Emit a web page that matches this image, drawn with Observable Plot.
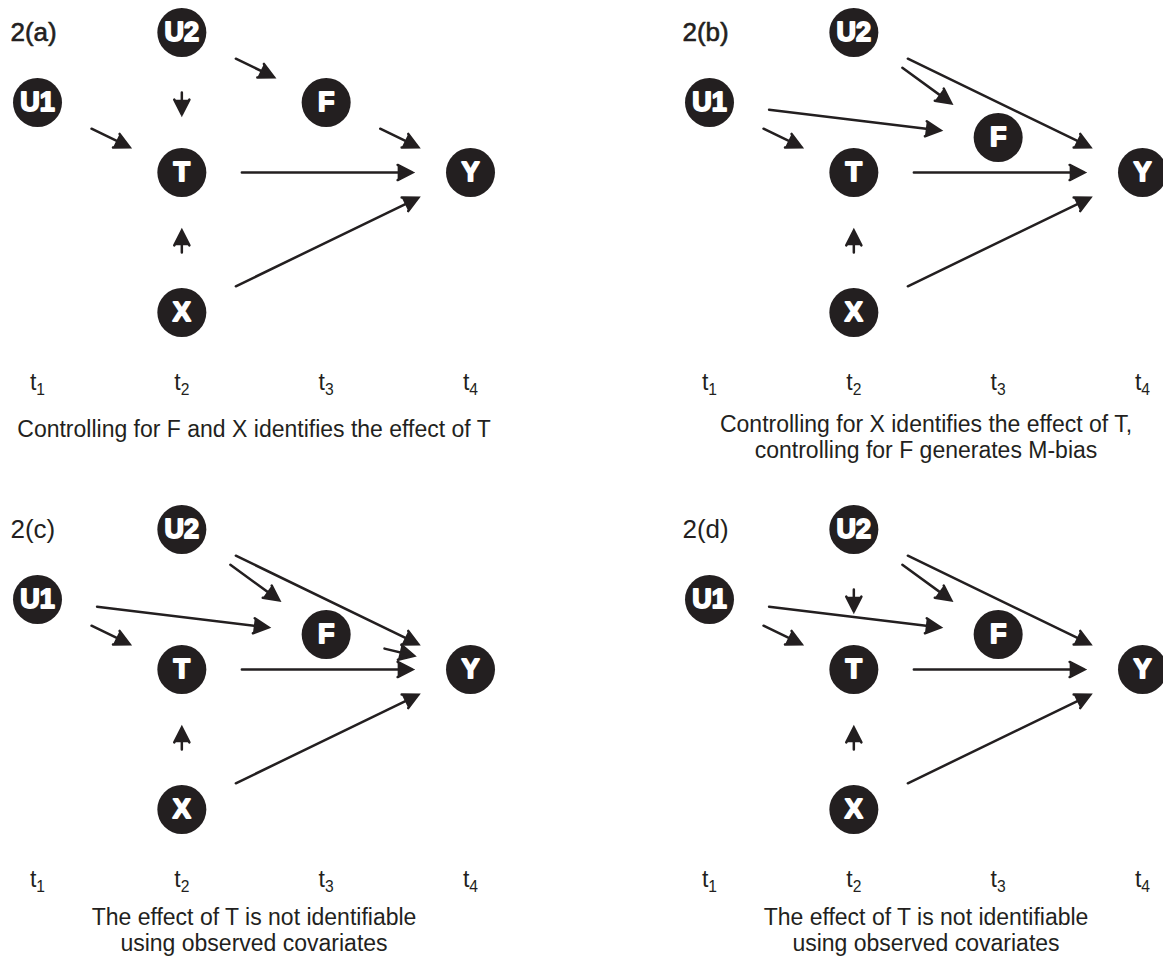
<!DOCTYPE html>
<html>
<head>
<meta charset="utf-8">
<script src="https://cdn.jsdelivr.net/npm/d3@7"></script>
<script src="https://cdn.jsdelivr.net/npm/@observablehq/plot@0.6"></script>
<style>
  html, body { margin: 0; padding: 0; background: #fff; }
  body { width: 1163px; height: 964px; overflow: hidden; position: relative;
         font-family: "Liberation Sans", Arial, Helvetica, sans-serif; }
  .panel { position: absolute; width: 500px; height: 467px; }
</style>
</head>
<body>
<div class="panel" id="p0" style="left:0px;top:0px"></div>
<div class="panel" id="p1" style="left:672px;top:0px"></div>
<div class="panel" id="p2" style="left:0px;top:497px"></div>
<div class="panel" id="p3" style="left:672px;top:497px"></div>
<script>
// ---- data ----
const panelLabels = ["2(a)", "2(b)", "2(c)", "2(d)"];
const nodeNames = ["U1", "U2", "T", "F", "X", "Y"];
const nodeTime  = [1, 2, 2, 3, 2, 4];        // time index t1..t4
const nodeLevel = [1, 0, 2, 1, 4, 2];        // vertical level (0 = top)
const fLevel    = [1, 1.5, 1.5, 1.5];        // level of F in each panel
const timeIdx    = [1, 2, 3, 4];
const timeLabels = ["t1", "t2", "t3", "t4"];
const edgesA = [["U2","F"], ["U2","T"], ["U1","T"], ["F","Y"], ["T","Y"], ["X","T"], ["X","Y"]];
const edgesB = [["U2","F"], ["U2","Y"], ["U1","F"], ["U1","T"], ["T","Y"], ["X","T"], ["X","Y"]];
const edgesC = [["U2","F"], ["U2","Y"], ["U1","F"], ["U1","T"], ["F","Y"], ["T","Y"], ["X","T"], ["X","Y"]];
const edgesD = [["U2","F"], ["U2","Y"], ["U2","T"], ["U1","F"], ["U1","T"], ["T","Y"], ["X","T"], ["X","Y"]];
const panelEdges = [edgesA, edgesB, edgesC, edgesD];
const captions = [
  "Controlling for F and X identifies the effect of T",
  "Controlling for X identifies the effect of T,\ncontrolling for F generates M-bias",
  "The effect of T is not identifiable\nusing observed covariates",
  "The effect of T is not identifiable\nusing observed covariates"
];

// ---- drawing ----
const ink = "#231f20";
const font = "Liberation Sans, Arial, Helvetica, sans-serif";

function drawPanel(k) {
  const nodes = nodeNames.map((name, i) => ({
    name, t: nodeTime[i], level: name === "F" ? fLevel[k] : nodeLevel[i]
  }));
  const byName = new Map(nodes.map(d => [d.name, d]));
  const edges = panelEdges[k].map(([a, b]) => ({
    x1: byName.get(a).t, y1: byName.get(a).level,
    x2: byName.get(b).t, y2: byName.get(b).level
  }));
  const top = k < 2;
  const captionDy = [106, 101, 97, 97][k];
  const svg = Plot.plot({
    width: 500, height: 467,
    marginLeft: 37, marginRight: 30, marginTop: 32, marginBottom: 155,
    style: {fontFamily: font, background: "transparent", overflow: "visible", color: ink},
    x: {domain: [1, 4]},
    y: {domain: [0, 4], reverse: true, axis: null},
    marks: [
      Plot.axisX(timeIdx, {
        anchor: "bottom", tickSize: 0, tickPadding: 61, label: null,
        tickFormat: t => timeLabels[t - 1], fontSize: 23, fill: ink
      }),
      Plot.arrow(edges, {
        x1: "x1", y1: "y1", x2: "x2", y2: "y2",
        insetStart: 60, insetEnd: 58,
        stroke: ink, fill: ink, strokeWidth: 2.5, strokeMiterlimit: 4,
        headLength: 10, headAngle: 54
      }),
      Plot.dot(nodes, {x: "t", y: "level", r: 24.5, fill: ink}),
      Plot.text(nodes, {
        x: "t", y: "level", text: "name", fill: "white",
        fontSize: 27, fontWeight: "bold", stroke: "white", strokeWidth: 1.8
      }),
      Plot.text([panelLabels[k]], {
        frameAnchor: "top-left", textAnchor: "start", lineAnchor: "middle", dx: -27,
        fontSize: 26, fill: ink,
        stroke: top ? ink : "none", strokeWidth: top ? 0.6 : 0
      }),
      Plot.text([captions[k]], {
        frameAnchor: "bottom", lineAnchor: "top", dy: captionDy,
        fontSize: 23, lineHeight: 1.13, fill: ink
      })
    ]
  });
  // filled arrow heads
  d3.select(svg).selectAll('g[aria-label="arrow"]').attr("fill", ink)
    .selectAll("path").attr("fill", ink);
  // subscripts for the time labels
  d3.select(svg).selectAll('g[aria-label="x-axis tick label"] text').each(function () {
    const s = this.textContent;
    this.textContent = s.slice(0, 1);
    d3.select(this).append("tspan")
      .attr("font-size", "0.68em").attr("dy", "0.32em")
      .text(s.slice(1));
  });
  document.getElementById("p" + k).appendChild(svg);
}
[0, 1, 2, 3].forEach(drawPanel);
</script>
</body>
</html>
